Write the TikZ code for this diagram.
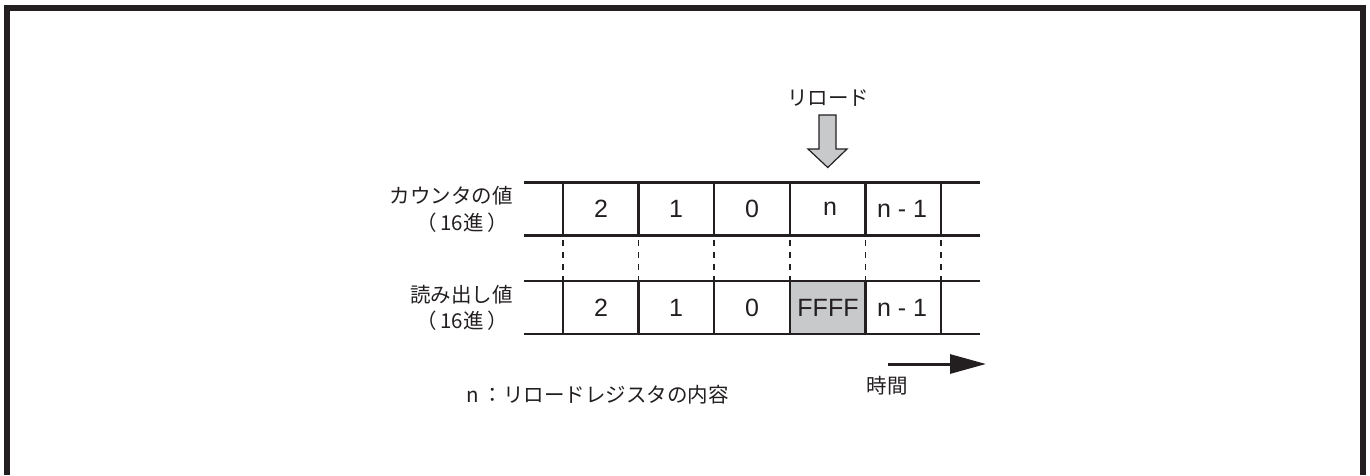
\documentclass[tikz,border=0pt]{standalone}
\usepackage{fontspec}
\setmainfont{Liberation Sans}
\newfontfamily\jpfont{Noto Sans CJK JP}
\usetikzlibrary{arrows.meta}
\definecolor{ink}{HTML}{231F20}
\definecolor{cellgray}{HTML}{C8C9CB}
\begin{document}
\begin{tikzpicture}[x=1pt,y=-1pt,
  rowline/.style={draw=ink,line width=2.6pt},
  sepline/.style={draw=ink,line width=2.4pt},
  dashline/.style={draw=ink,line width=1.6pt,dash pattern=on 6pt off 6pt},
  celltext/.style={text=ink,font=\fontsize{25}{28}\selectfont,inner sep=0pt},
  jplabel/.style={text=ink,font=\jpfont\fontsize{20.5}{24}\selectfont,inner sep=0pt}]
\useasboundingbox (0,0) rectangle (1370,475);
% frame (open at bottom)
\draw[draw=ink,line width=6pt] (7,475) -- (7,7.5) -- (1363,7.5) -- (1363,475);
% grey cell
\fill[cellgray] (790,281) rectangle (865.5,334);
% rows
\foreach \y in {182.7,235.7,281,334} \draw[rowline] (524,\y) -- (980,\y);
\foreach \x in {563,638.5,714,790,865.5,941} {
  \draw[sepline] (\x,182.7) -- (\x,235.7);
  \draw[sepline] (\x,281) -- (\x,334);
  \draw[dashline] (\x,240) -- (\x,281);
}
% cell texts
\node[celltext] (c1) at (601,209) {2};
\node[celltext] (c2) at (676,209) {1};
\node[celltext] (c3) at (752,209) {0};
\node[celltext] (c4) at (830,209) {n};
\node[celltext] (c5) at (902,209) {n - 1};
\node[celltext] (r1) at (601,308) {2};
\node[celltext] (r2) at (676,308) {1};
\node[celltext] (r3) at (752,308) {0};
\node[celltext] (r4) at (828,308) {FFFF};
\node[celltext] (r5) at (902,308) {n - 1};
% labels
\node[jplabel,anchor=east] (lab1) at (513,196) {カウンタの値};
\node[jplabel,anchor=east] (lab1b) at (508,223) {（\,16進\,）};
\node[jplabel,anchor=east] (lab2) at (513,295) {読み出し値};
\node[jplabel,anchor=east] (lab2b) at (508,321) {（\,16進\,）};
\node[jplabel,anchor=west] (note) at (466,395) {n\hspace{4pt}：リロードレジスタの内容};
\node[jplabel] (reload) at (828,98) {リロード};
\node[jplabel] (time) at (887,386) {時間};
% reload block arrow
\coordinate (tip) at (827.75,167.5);
\filldraw[fill=cellgray,draw=ink,line width=1.2pt,line join=miter]
  (819,115) -- (836,115) -- (836,149) -- (847,149) -- (tip) -- (808,149) -- (819,149) -- cycle;
% time arrow
\coordinate (t0) at (888,364);
\coordinate (t1) at (986,364);
\draw[draw=ink,line width=3pt,-{Triangle[length=36pt,width=19pt]}] (t0) -- (t1);
\end{tikzpicture}
\end{document}
